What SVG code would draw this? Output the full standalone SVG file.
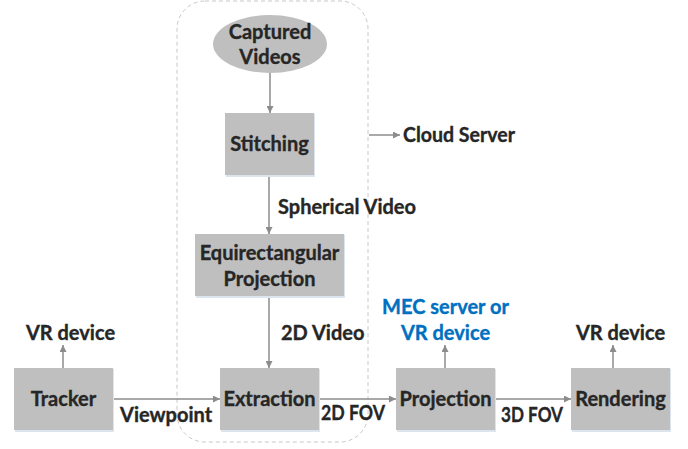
<svg xmlns="http://www.w3.org/2000/svg" width="688" height="449" viewBox="0 0 688 449">
<style>
.box{fill:#bfbfbf}
.sh{fill:#dce4ee}
.t{font-family:Lato,"Open Sans","Liberation Sans",sans-serif;font-weight:bold;font-size:20px;fill:#262626;stroke:#262626;stroke-width:0.35}
.c{text-anchor:middle}
.blue{fill:#0070c0;stroke:#0070c0}
.ln{stroke:#8c8c8c;stroke-width:1.5;fill:none}
</style>
<defs>
<marker id="ah" viewBox="0 0 10 10" refX="10" refY="5" markerWidth="8" markerHeight="7" markerUnits="userSpaceOnUse" orient="auto">
<path d="M0,0 L10,5 L0,10 z" fill="#8c8c8c"/>
</marker>
</defs>
<g id="cloud-group">
<rect x="177" y="1" width="191" height="441" rx="28" fill="none" stroke="#c8c8c8" stroke-width="1" stroke-dasharray="4 3"/>
</g>
<g id="connectors">
<line class="ln" x1="270" y1="73" x2="270" y2="113" marker-end="url(#ah)"/>
<line class="ln" x1="269" y1="175" x2="269" y2="234" marker-end="url(#ah)" stroke-width="2"/>
<line class="ln" x1="369" y1="135" x2="400" y2="135" marker-end="url(#ah)"/>
<line class="ln" x1="269" y1="296" x2="269" y2="368" marker-end="url(#ah)" stroke-width="2"/>
<line class="ln" x1="63" y1="368" x2="63" y2="345" marker-end="url(#ah)"/>
<line class="ln" x1="113" y1="399" x2="220" y2="399" marker-end="url(#ah)"/>
<line class="ln" x1="319" y1="399" x2="396" y2="399" marker-end="url(#ah)"/>
<line class="ln" x1="445" y1="368" x2="445" y2="345" marker-end="url(#ah)"/>
<line class="ln" x1="495" y1="399" x2="571" y2="399" marker-end="url(#ah)"/>
<line class="ln" x1="613" y1="368" x2="613" y2="345" marker-end="url(#ah)"/>
<text class="t" x="278" y="214">Spherical Video</text>
<text class="t" x="403" y="142" textLength="112" lengthAdjust="spacingAndGlyphs">Cloud Server</text>
<text class="t" x="281" y="340">2D Video</text>
<text class="t" x="120" y="422">Viewpoint</text>
<text class="t" x="321" y="420" textLength="64" lengthAdjust="spacingAndGlyphs">2D FOV</text>
<text class="t" x="501" y="422" textLength="62" lengthAdjust="spacingAndGlyphs">3D FOV</text>
<text class="t c" x="70.5" y="340">VR device</text>
<text class="t c" x="620.5" y="340">VR device</text>
<text class="t c blue" x="445.5" y="314">MEC server or</text>
<text class="t c blue" x="445.5" y="340">VR device</text>
</g>
<g id="captured">
<ellipse cx="270" cy="44" rx="57" ry="29" class="box"/>
<text class="t c" x="270" y="39">Captured</text>
<text class="t c" x="270" y="64">Videos</text>
</g>
<g id="stitching">
<rect class="sh" x="226" y="114" width="89" height="63"/>
<rect class="box" x="225" y="113" width="89" height="62"/>
<text class="t c" x="269.5" y="151">Stitching</text>
</g>
<g id="equirect">
<rect class="sh" x="196" y="235" width="149" height="63"/>
<rect class="box" x="195" y="234" width="149" height="62"/>
<text class="t c" x="269.5" y="260">Equirectangular</text>
<text class="t c" x="269.5" y="286">Projection</text>
</g>
<g id="tracker">
<rect class="sh" x="15" y="369" width="99" height="63"/>
<rect class="box" x="14" y="368" width="99" height="62"/>
<text class="t c" x="63.5" y="406">Tracker</text>
</g>
<g id="extraction">
<rect class="sh" x="221" y="369" width="99" height="63"/>
<rect class="box" x="220" y="368" width="99" height="62"/>
<text class="t c" x="269.5" y="406">Extraction</text>
</g>
<g id="projection">
<rect class="sh" x="397" y="369" width="99" height="63"/>
<rect class="box" x="396" y="368" width="99" height="62"/>
<text class="t c" x="445.5" y="406">Projection</text>
</g>
<g id="rendering">
<rect class="sh" x="572" y="369" width="99" height="63"/>
<rect class="box" x="571" y="368" width="99" height="62"/>
<text class="t c" x="620.5" y="406">Rendering</text>
</g>
</svg>
